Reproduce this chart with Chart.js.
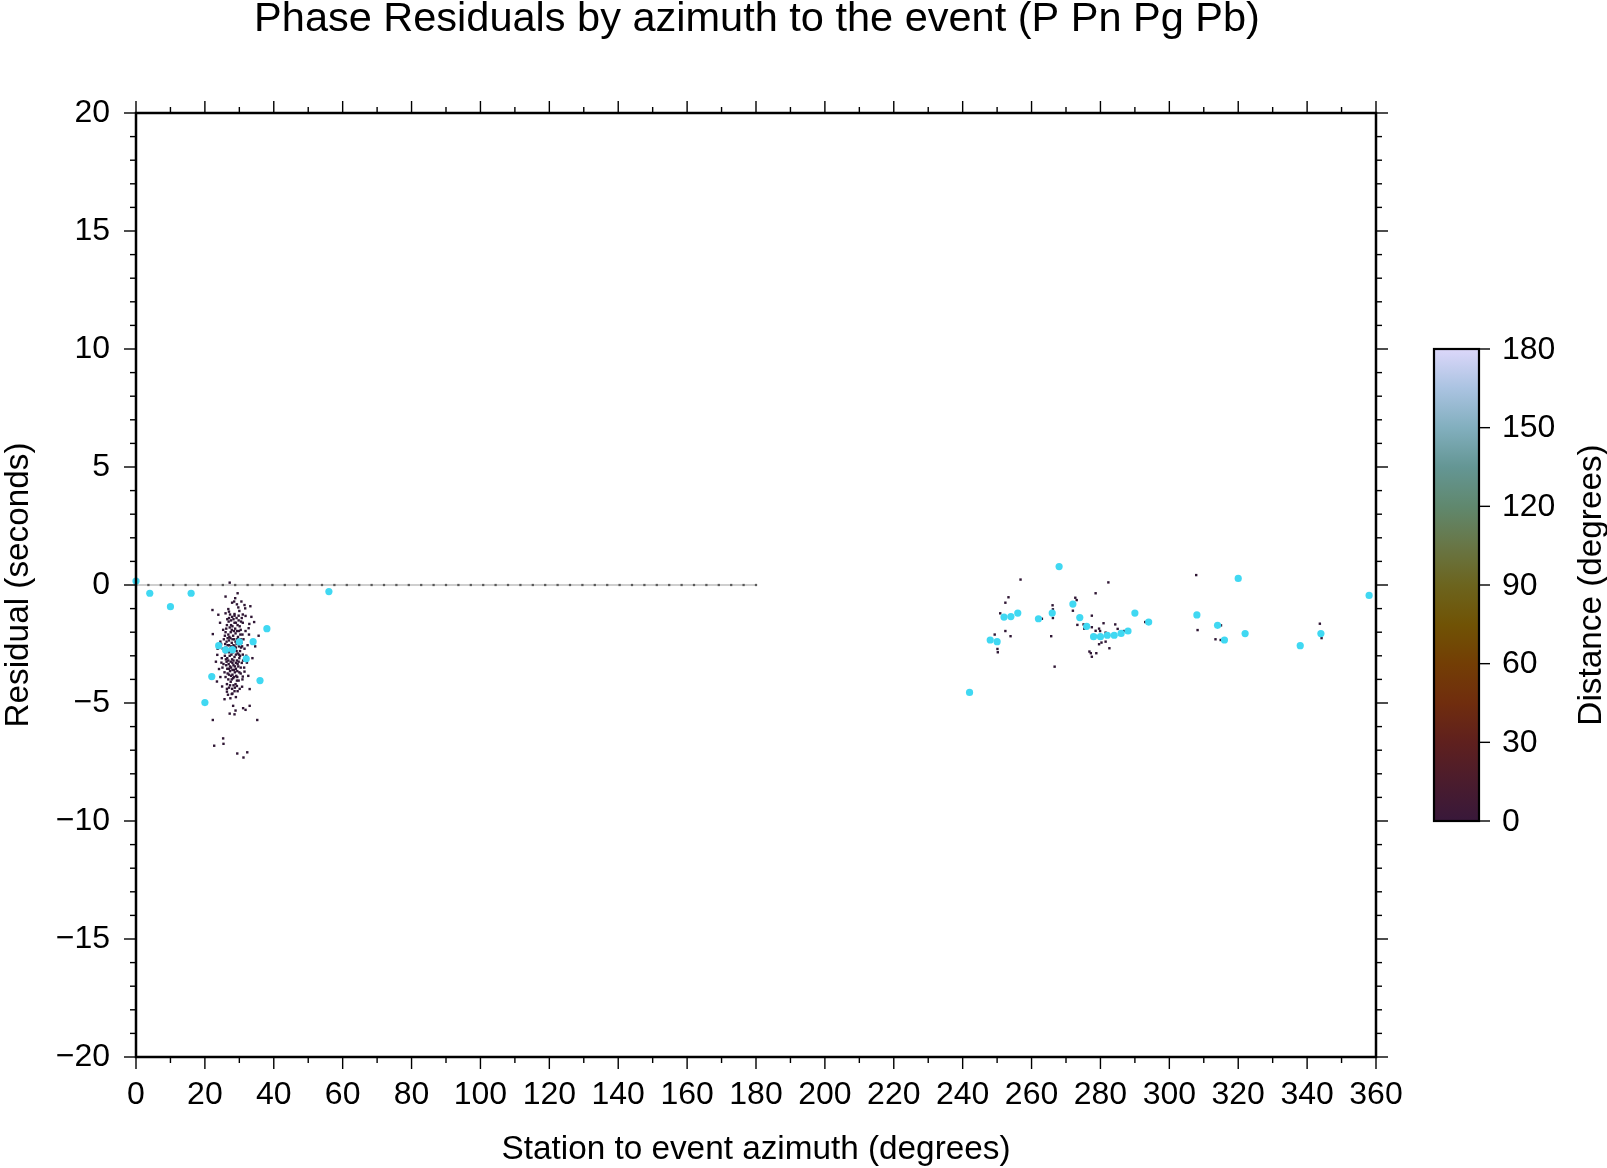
<!DOCTYPE html>
<html>
<head>
<meta charset="utf-8">
<script src="https://cdn.jsdelivr.net/npm/chart.js@4.4.1/dist/chart.umd.min.js"></script>
<style>
  body { margin: 0; background: #fff; }
  canvas { display: block; }
</style>
</head>
<body>
<canvas id="residuals" width="1607" height="1168"></canvas>
<script>
"use strict";

// picks shown as large cyan dots: [azimuth, residual]
var cyanPicks = [
    [0, 0.17], [4, -0.35], [10, -0.92], [16, -0.35], [20, -4.98], [22, -3.88],
    [24, -2.57], [26, -2.75], [28, -2.74], [30, -2.41], [32, -3.13], [34, -2.40],
    [36, -4.05], [38, -1.85], [56, -0.28],
    [242, -4.55], [248, -2.33], [250, -2.40], [252, -1.36], [254, -1.34], [256, -1.19],
    [262, -1.43], [266, -1.19], [268, 0.78], [272, -0.81], [274, -1.38], [276, -1.75],
    [278, -2.19], [280, -2.19], [282, -2.13], [284, -2.13], [286, -2.05], [288, -1.95],
    [290, -1.19], [294, -1.57], [308, -1.27], [314, -1.71], [316, -2.33], [320, 0.28],
    [322, -2.06], [338, -2.57], [344, -2.06], [358, -0.44]
];

// small dots, near stations (distance ~0 deg), west cluster
var nearWest = [
    [27.2, 0.10], [29.5, -0.35], [28.8, -0.56], [26.0, -0.49], [28.5, -0.70], [29.3, -0.82],
    [31.5, -0.85], [33.2, -0.90], [31.7, -0.99], [30.0, -1.10], [22.2, -1.06], [26.8, -1.02],
    [27.0, -1.13], [28.6, -1.23], [23.9, -1.26], [31.8, -1.31], [34.3, -1.57], [32.9, -1.65],
    [32.7, -1.83], [22.3, -2.08], [35.6, -2.15], [24.5, -2.40], [23.5, -4.09], [30.8, -4.31],
    [33.0, -4.41], [29.3, -4.28], [26.4, -4.52], [27.8, -4.62], [24.8, -3.29], [24.1, -3.56],
    [23.2, -3.25], [23.6, -2.96], [32.2, -3.29], [31.5, -3.67], [31.0, -3.88], [25.7, -4.84],
    [28.2, -5.12], [28.9, -5.32], [31.1, -5.22], [31.8, -5.29], [33.0, -5.12], [27.2, -5.45],
    [28.6, -5.48], [22.3, -5.72], [35.2, -5.72], [25.3, -6.50], [25.4, -6.73], [22.7, -6.81],
    [29.4, -7.14], [32.3, -7.09], [31.2, -7.31],
    [27.0, -1.40], [27.6, -1.50], [28.3, -1.45], [29.0, -1.60], [29.8, -1.50], [26.4, -1.70],
    [27.2, -1.80], [28.0, -1.75], [28.8, -1.85], [29.5, -1.70], [30.4, -1.90], [31.0, -1.60],
    [26.0, -2.00], [26.8, -2.10], [27.5, -2.00], [28.2, -2.15], [28.9, -2.05], [29.6, -2.20],
    [30.3, -2.10], [31.2, -2.30], [25.5, -2.30], [26.3, -2.40], [27.0, -2.35], [27.8, -2.45],
    [28.5, -2.30], [29.2, -2.50], [30.0, -2.40], [30.8, -2.60], [25.2, -2.70], [26.0, -2.65],
    [26.7, -2.80], [27.4, -2.70], [28.1, -2.85], [28.8, -2.75], [29.5, -2.90], [30.2, -2.80],
    [31.0, -2.95], [25.8, -3.00], [26.5, -3.10], [27.2, -3.00], [27.9, -3.15], [28.6, -3.05],
    [29.3, -3.20], [30.0, -3.10], [30.7, -3.30], [26.2, -3.40], [26.9, -3.35], [27.6, -3.50],
    [28.3, -3.40], [29.0, -3.55], [29.7, -3.45], [25.7, -3.70], [26.6, -3.75], [27.3, -3.65],
    [28.0, -3.80], [28.7, -3.70], [29.4, -3.90], [30.4, -3.75], [26.8, -4.00], [27.5, -4.10],
    [28.2, -3.95], [28.9, -4.20], [29.8, -4.05], [27.0, -4.35], [27.9, -4.40], [28.6, -4.50],
    [27.3, -1.25], [28.6, -1.30], [26.9, -1.55], [28.6, -1.60], [30.1, -1.75], [27.8, -1.90],
    [29.3, -1.95], [26.6, -2.25], [28.6, -2.60], [27.0, -2.55], [29.9, -2.60], [27.7, -2.95],
    [29.0, -2.95], [26.3, -3.25], [28.0, -3.30], [29.5, -3.35], [27.0, -3.55], [28.5, -3.60],
    [27.6, -3.85], [29.1, -3.85], [26.4, -4.20], [28.3, -4.25], [30.1, -4.40], [28.0, -4.60],
    [27.4, -2.25], [28.9, -2.40], [30.6, -2.45], [25.9, -2.85], [31.5, -2.70], [24.9, -3.10],
    [31.4, -3.50], [25.1, -3.50], [30.9, -4.00], [25.3, -1.90], [31.8, -1.95], [24.7, -2.50],
    [32.4, -2.55], [32.0, -3.00], [24.5, -3.90], [32.8, -2.10], [24.4, -1.60], [33.5, -1.35],
    [25.0, -4.30], [33.8, -3.10], [32.6, -3.85], [34.6, -2.60], [23.7, -2.70], [29.8, -1.30],
    [31.0, -1.25], [26.0, -1.20], [29.7, -0.95], [27.9, -0.75], [30.6, -0.70],
    [26.5, -1.45], [27.9, -1.35], [29.2, -1.40], [30.5, -1.55], [26.2, -1.85], [27.6, -1.70],
    [28.4, -1.95], [29.9, -1.95], [30.9, -2.10], [25.8, -2.15], [27.1, -2.20], [28.0, -2.30],
    [29.4, -2.30], [30.4, -2.30], [25.9, -2.50], [26.6, -2.55], [27.6, -2.60], [28.3, -2.55],
    [29.0, -2.65], [30.5, -2.65], [26.3, -2.80], [27.0, -2.85], [27.9, -2.70], [29.2, -2.80],
    [29.9, -2.95], [26.1, -3.15], [26.8, -3.20], [27.5, -3.25], [28.3, -3.20], [29.0, -3.30],
    [29.8, -3.25], [30.4, -3.50], [26.5, -3.55], [27.3, -3.45], [28.0, -3.60], [28.7, -3.45],
    [29.4, -3.65], [30.0, -3.70], [26.0, -3.90], [27.0, -3.80], [27.8, -4.00], [28.5, -3.90],
    [29.3, -4.05], [26.4, -4.40], [27.3, -4.25], [28.7, -4.35], [29.5, -4.50], [27.4, -4.80],
    [29.0, -4.75], [26.7, -4.65], [30.2, -3.00], [25.4, -3.35], [31.1, -3.20], [30.7, -1.40]
];

// small dots, east cluster
var nearEast = [
    [256.8, 0.23], [253.3, -0.52], [252.4, -0.75], [250.9, -1.20], [249.3, -2.10], [252.4, -1.95],
    [253.9, -2.17], [250.1, -2.71], [250.2, -2.85], [266.1, -0.86], [266.2, -1.03], [266.2, -1.40],
    [265.7, -2.17], [266.7, -3.46], [263.0, -1.43], [272.7, -0.54], [273.1, -0.64], [272.0, -1.09],
    [273.3, -1.69], [275.1, -1.67], [275.3, -1.85], [277.5, -1.30], [278.6, -0.35], [282.3, 0.11],
    [277.5, -1.79], [278.6, -1.94], [279.6, -1.85], [279.9, -1.95], [280.9, -1.62], [281.5, -2.02],
    [278.6, -2.16], [280.3, -2.44], [279.6, -2.51], [281.5, -2.40], [282.6, -2.68], [276.8, -2.82],
    [277.2, -2.89], [277.5, -3.04], [278.8, -2.89], [284.3, -1.67], [285.0, -1.86], [286.8, -1.95],
    [293.0, -1.57], [307.8, 0.42], [308.2, -1.91], [315.0, -1.71], [313.4, -2.30], [314.9, -2.33],
    [343.7, -1.64], [344.2, -2.25]
];

// zero reference line
var zeroLineAz = [0, 3.6, 7.2, 10.8, 14.4, 18, 21.6, 25.2, 28.8, 32.4, 36, 39.6, 43.2, 46.8,
    50.4, 54, 57.6, 61.2, 64.8, 68.4, 72, 75.6, 79.2, 82.8, 86.4, 90, 93.6, 97.2, 100.8, 104.4,
    108, 111.6, 115.2, 118.8, 122.4, 126, 129.6, 133.2, 136.8, 140.4, 144, 147.6, 151.2, 154.8,
    158.4, 162, 165.6, 169.2, 172.8, 176.4, 180];

var distTicks = [0, 30, 60, 90, 120, 150, 180];
var distStops = [
    [0, 'rgb(56,24,58)'], [15, 'rgb(75,28,45)'], [30, 'rgb(95,32,30)'], [45, 'rgb(112,45,14)'],
    [60, 'rgb(115,62,5)'], [75, 'rgb(112,83,5)'], [90, 'rgb(108,100,30)'], [105, 'rgb(104,118,70)'],
    [120, 'rgb(96,136,110)'], [135, 'rgb(100,150,148)'], [150, 'rgb(130,175,190)'],
    [165, 'rgb(170,195,225)'], [180, 'rgb(220,215,250)']
];

var FONT = '"Liberation Sans", Arial, Helvetica, sans-serif';

function toXY(list) {
    return list.map(function(p) { return { x: p[0], y: p[1] }; });
}

function minusLabel(v) {
    return v < 0 ? '\u2212' + Math.abs(v) : String(v);
}

var decor = {
    id: 'decor',
    afterDraw: function(chart) {
        var ctx = chart.ctx;
        var a = chart.chartArea;
        var xs = chart.scales.x, ys = chart.scales.y;

        function seg(x1, y1, x2, y2) {
            ctx.beginPath();
            ctx.moveTo(x1, y1);
            ctx.lineTo(x2, y2);
            ctx.stroke();
        }

        ctx.save();
        ctx.strokeStyle = '#000';
        ctx.lineWidth = 1.4;

        // ticks on all four sides
        for (var v = 0; v <= 360; v += 10) {
            var px = xs.getPixelForValue(v);
            var len = v % 20 === 0 ? 12 : 6;
            seg(px, a.bottom, px, a.bottom + len);
            seg(px, a.top, px, a.top - len);
        }
        for (var r = -20; r <= 20; r += 1) {
            var py = ys.getPixelForValue(r);
            var l2 = r % 5 === 0 ? 12 : 6;
            seg(a.left, py, a.left - l2, py);
            seg(a.right, py, a.right + l2, py);
        }

        ctx.lineWidth = 2.5;
        ctx.strokeRect(a.left, a.top, a.right - a.left, a.bottom - a.top);

        // colour bar
        var cb = { left: 1434, right: 1479, top: 349, bottom: 821 };
        var grad = ctx.createLinearGradient(0, cb.bottom, 0, cb.top);
        distStops.forEach(function(s) { grad.addColorStop(s[0] / 180, s[1]); });
        ctx.fillStyle = grad;
        ctx.fillRect(cb.left, cb.top, cb.right - cb.left, cb.bottom - cb.top);
        ctx.lineWidth = 2.2;
        ctx.strokeRect(cb.left, cb.top, cb.right - cb.left, cb.bottom - cb.top);

        ctx.lineWidth = 1.4;
        ctx.fillStyle = '#000';
        ctx.font = '32px ' + FONT;
        ctx.textAlign = 'left';
        ctx.textBaseline = 'middle';
        distTicks.forEach(function(d) {
            var ty = cb.bottom - (cb.bottom - cb.top) * d / 180;
            seg(cb.right, ty, cb.right + 11, ty);
            ctx.fillText(String(d), 1502, ty + 1);
        });

        // titles
        ctx.textAlign = 'center';
        ctx.font = '41.5px ' + FONT;
        ctx.textBaseline = 'alphabetic';
        ctx.fillText('Phase Residuals by azimuth to the event (P Pn Pg Pb)', (a.left + a.right) / 2 + 1, 31);

        ctx.font = '33.3px ' + FONT;
        ctx.fillText('Station to event azimuth (degrees)', (a.left + a.right) / 2, 1159);

        ctx.save();
        ctx.translate(28, (a.top + a.bottom) / 2);
        ctx.rotate(-Math.PI / 2);
        ctx.fillText('Residual (seconds)', 0, 0);
        ctx.restore();

        ctx.save();
        ctx.translate(1601, (cb.top + cb.bottom) / 2);
        ctx.rotate(-Math.PI / 2);
        ctx.fillText('Distance (degrees)', 0, 0);
        ctx.restore();

        ctx.restore();
    }
};

var chart = new Chart(document.getElementById('residuals'), {
    type: 'scatter',
    data: {
        datasets: [{
            label: 'cyan',
            data: toXY(cyanPicks),
            pointRadius: 3.6,
            pointBackgroundColor: '#40d8f2',
            pointBorderWidth: 0,
            order: 0,
            clip: false
        }, {
            label: 'west',
            data: toXY(nearWest),
            pointStyle: 'rect',
            pointRadius: 1.7,
            pointBackgroundColor: '#2f1634',
            pointBorderWidth: 0,
            order: 1
        }, {
            label: 'east',
            data: toXY(nearEast),
            pointStyle: 'rect',
            pointRadius: 1.7,
            pointBackgroundColor: '#2f1634',
            pointBorderWidth: 0,
            order: 1
        }, {
            label: 'zero',
            data: zeroLineAz.map(function(z) { return { x: z, y: 0 }; }),
            showLine: true,
            borderColor: '#a0a0a0',
            borderWidth: 1.2,
            pointStyle: 'rect',
            pointRadius: 1.6,
            pointBackgroundColor: '#5a5a5a',
            pointBorderWidth: 0,
            order: 2
        }]
    },
    options: {
        responsive: false,
        animation: false,
        layout: { padding: { left: 0, top: 113, right: 231, bottom: 0 } },
        plugins: { legend: { display: false }, tooltip: { enabled: false } },
        scales: {
            x: {
                type: 'linear',
                min: 0,
                max: 360,
                grid: { display: false, drawTicks: false },
                border: { display: false },
                ticks: {
                    stepSize: 20,
                    padding: 19,
                    color: '#000',
                    maxRotation: 0,
                    autoSkip: false,
                    font: { family: FONT, size: 32 }
                },
                afterFit: function(s) { s.height = 111; }
            },
            y: {
                type: 'linear',
                min: -20,
                max: 20,
                grid: { display: false, drawTicks: false },
                border: { display: false },
                ticks: {
                    stepSize: 5,
                    padding: 26,
                    color: '#000',
                    callback: minusLabel,
                    font: { family: FONT, size: 32 }
                },
                afterFit: function(s) { s.width = 136; }
            }
        }
    },
    plugins: [decor]
});
</script>
</body>
</html>
